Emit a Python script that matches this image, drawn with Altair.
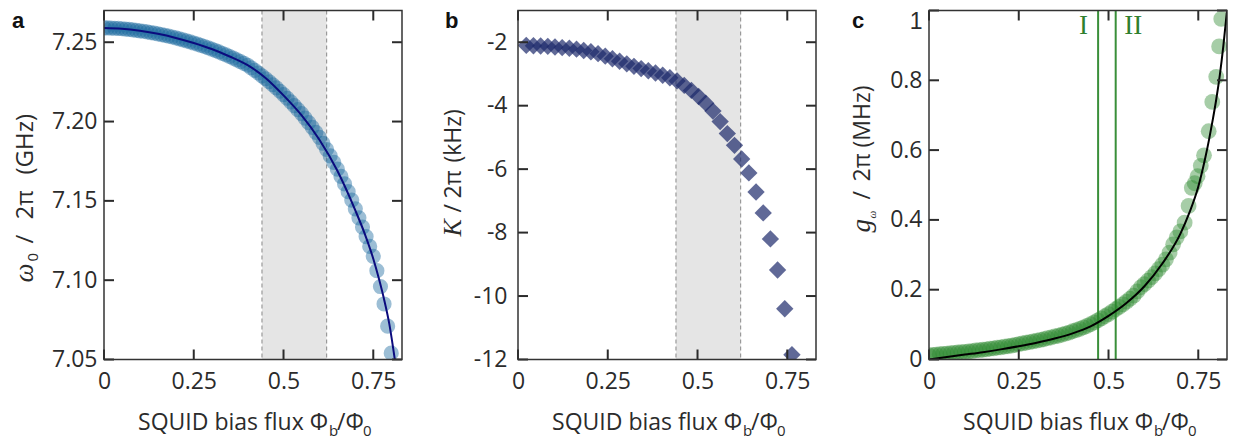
import altair as alt
import pandas as pd

# ---------------- layout constants ----------------
W = 298
H = 349
FONT = "Open Sans"
SERIF = "Liberation Serif"
BOLD = "Liberation Sans"
INK = "#2b2b2b"

# ---------------- data ----------------
x_ticks = [0, 0.25, 0.5, 0.75]
x_domain = [0, 0.83]
band_start = [0.44]
band_end = [0.62]

# panel a: resonance frequency
a_y_ticks = [7.05, 7.10, 7.15, 7.20, 7.25]
a_y_domain = [7.05, 7.27]
a_flux = [0.00, 0.01, 0.02, 0.03, 0.04, 0.05, 0.06, 0.07, 0.08, 0.09,
          0.10, 0.11, 0.12, 0.13, 0.14, 0.15, 0.16, 0.17, 0.18, 0.19,
          0.20, 0.21, 0.22, 0.23, 0.24, 0.25, 0.26, 0.27, 0.28, 0.29,
          0.30, 0.31, 0.32, 0.33, 0.34, 0.35, 0.36, 0.37, 0.38, 0.39,
          0.40, 0.41, 0.42, 0.43, 0.44, 0.45, 0.46, 0.47, 0.48, 0.49,
          0.50, 0.51, 0.52, 0.53, 0.54, 0.55, 0.56, 0.57, 0.58, 0.59,
          0.60, 0.61, 0.62, 0.63, 0.64, 0.65, 0.66, 0.67, 0.68, 0.69,
          0.70, 0.71, 0.72, 0.73, 0.74, 0.75, 0.76, 0.77, 0.78, 0.79, 0.80]
a_omega = [7.2590, 7.2590, 7.2589, 7.2588, 7.2587, 7.2585, 7.2583, 7.2581, 7.2578, 7.2575,
           7.2572, 7.2569, 7.2565, 7.2561, 7.2557, 7.2553, 7.2548, 7.2543, 7.2538, 7.2533,
           7.2527, 7.2521, 7.2515, 7.2508, 7.2502, 7.2495, 7.2488, 7.2480, 7.2473, 7.2465,
           7.2457, 7.2448, 7.2439, 7.2429, 7.2420, 7.2410, 7.2400, 7.2389, 7.2378, 7.2367,
           7.2355, 7.2339, 7.2323, 7.2306, 7.2288, 7.2270, 7.2251, 7.2232, 7.2212, 7.2191,
           7.2170, 7.2147, 7.2124, 7.2100, 7.2075, 7.2050, 7.2022, 7.1993, 7.1963, 7.1932,
           7.1900, 7.1863, 7.1824, 7.1784, 7.1743, 7.1700, 7.1654, 7.1607, 7.1558, 7.1505,
           7.1450, 7.1393, 7.1335, 7.1275, 7.1213, 7.1150, 7.1060, 7.0960, 7.0850, 7.0710, 7.0540]
a_fit_flux = [0.00, 0.05, 0.10, 0.15, 0.20, 0.25, 0.30, 0.35, 0.40, 0.45, 0.50,
              0.55, 0.60, 0.65, 0.70, 0.725, 0.75, 0.765, 0.78, 0.795, 0.81]
a_fit_omega = [7.2590, 7.2585, 7.2572, 7.2553, 7.2527, 7.2495, 7.2457, 7.2410, 7.2355, 7.2275, 7.2165,
               7.2040, 7.1885, 7.1690, 7.1440, 7.1300, 7.1135, 7.1015, 7.0880, 7.0720, 7.0500]

# panel b: Kerr coefficient
b_y_ticks = [-12, -10, -8, -6, -4, -2]
b_y_domain = [-12, -1]
b_flux = [0.023, 0.043, 0.063, 0.083, 0.103, 0.123, 0.143, 0.163, 0.183, 0.203,
          0.223, 0.243, 0.263, 0.283, 0.303, 0.323, 0.343, 0.363, 0.383, 0.403,
          0.423, 0.443, 0.463, 0.483, 0.503, 0.523, 0.543, 0.563, 0.583, 0.603,
          0.623, 0.643, 0.663, 0.683, 0.703, 0.723, 0.743, 0.763]
b_kerr = [-2.10, -2.11, -2.12, -2.13, -2.15, -2.17, -2.19, -2.22, -2.26, -2.30,
          -2.36, -2.44, -2.52, -2.60, -2.68, -2.76, -2.83, -2.90, -2.97, -3.04,
          -3.12, -3.22, -3.36, -3.52, -3.71, -3.92, -4.17, -4.50, -4.88, -5.25,
          -5.68, -6.12, -6.72, -7.38, -8.20, -9.18, -10.40, -11.85]

# panel c: coupling strength
c_y_ticks = [0, 0.2, 0.4, 0.6, 0.8, 1.0]
c_y_domain = [0, 1]
c_flux = [0.00, 0.01, 0.02, 0.03, 0.04, 0.05, 0.06, 0.07, 0.08, 0.09,
          0.10, 0.11, 0.12, 0.13, 0.14, 0.15, 0.16, 0.17, 0.18, 0.19,
          0.20, 0.21, 0.22, 0.23, 0.24, 0.25, 0.26, 0.27, 0.28, 0.29,
          0.30, 0.31, 0.32, 0.33, 0.34, 0.35, 0.36, 0.37, 0.38, 0.39,
          0.40, 0.41, 0.42, 0.43, 0.44, 0.45, 0.46, 0.47, 0.48, 0.49,
          0.50, 0.51, 0.52, 0.53, 0.54, 0.55, 0.56, 0.57, 0.58, 0.59,
          0.60, 0.61, 0.62, 0.63, 0.64, 0.65, 0.66, 0.67,
          0.680, 0.690, 0.700, 0.712, 0.723, 0.732, 0.740, 0.748, 0.757, 0.766,
          0.779, 0.789, 0.800, 0.808, 0.814]
c_g = [0.012, 0.013, 0.014, 0.015, 0.016, 0.017, 0.018, 0.019, 0.020, 0.021,
       0.022, 0.023, 0.024, 0.026, 0.027, 0.028, 0.029, 0.031, 0.032, 0.034,
       0.035, 0.037, 0.038, 0.040, 0.042, 0.044, 0.046, 0.048, 0.050, 0.052,
       0.054, 0.056, 0.058, 0.061, 0.063, 0.066, 0.068, 0.071, 0.074, 0.077,
       0.081, 0.084, 0.088, 0.092, 0.096, 0.101, 0.106, 0.112, 0.118, 0.124,
       0.130, 0.137, 0.144, 0.151, 0.158, 0.166, 0.174, 0.183, 0.195, 0.207,
       0.216, 0.226, 0.236, 0.247, 0.259, 0.272, 0.287, 0.306,
       0.330, 0.350, 0.367, 0.392, 0.440, 0.492, 0.505, 0.525, 0.555, 0.585,
       0.654, 0.738, 0.810, 0.897, 0.976]
c_fit_flux = [0.00, 0.05, 0.10, 0.15, 0.20, 0.25, 0.30, 0.35, 0.40, 0.45, 0.50,
              0.55, 0.60, 0.65, 0.70, 0.725, 0.75, 0.77, 0.78, 0.79, 0.80, 0.81, 0.82, 0.83]
c_fit_g = [0.000, 0.007, 0.014, 0.021, 0.029, 0.038, 0.048, 0.060, 0.075, 0.095, 0.125,
           0.162, 0.210, 0.275, 0.360, 0.420, 0.495, 0.580, 0.630, 0.685, 0.745, 0.815, 0.900, 1.000]
c_markers = [0.471, 0.52]
c_marker_text = ["I", "II"]
c_marker_text_x = [0.43, 0.569]

one = pd.DataFrame({"v": [0]})


# ---------------- helpers ----------------
def x_axis():
    return alt.Axis(values=x_ticks, labelExpr="'' + datum.value", ticks=False, tickSize=0,
                    domain=False, grid=False, title=None, labelFont=FONT, labelFontSize=23,
                    labelColor=INK, labelPadding=11, labelFlush=False, labelOverlap=False)


def y_axis(values, expr, pad, extra=None):
    kw = dict(values=values, labelExpr=expr, ticks=False, tickSize=0, domain=False, grid=False,
              title=None, labelFont=FONT, labelFontSize=23, labelColor=INK, labelPadding=pad,
              labelOverlap=False)
    if extra:
        kw.update(extra)
    return alt.Axis(**kw)


def xenc(field="x"):
    return alt.X(f"{field}:Q", scale=alt.Scale(domain=x_domain, nice=False, zero=False),
                 axis=x_axis())


def make_yenc(domain, axis_args):
    def yenc(field="y"):
        return alt.Y(f"{field}:Q", scale=alt.Scale(domain=domain, nice=False, zero=False),
                     axis=y_axis(*axis_args))
    return yenc


def txt(text, x, y, size=23, font=FONT, color=INK, angle=0, align="left",
        baseline="alphabetic", style="normal", weight="normal"):
    return alt.Chart(one).mark_text(
        text=text, fontSize=size, font=font, color=color, angle=angle, align=align,
        baseline=baseline, fontStyle=style, fontWeight=weight
    ).encode(x=alt.value(x), y=alt.value(y))


def tick_layers(yenc, yt):
    xt = pd.DataFrame({"x": x_ticks})
    ytd = pd.DataFrame({"y": yt})
    base_x = alt.Chart(xt).mark_rule(color=INK, strokeWidth=2)
    base_y = alt.Chart(ytd).mark_rule(color=INK, strokeWidth=2)
    return [
        base_x.encode(x=xenc(), y=alt.value(H), y2=alt.value(H - 10)),
        base_x.encode(x=xenc(), y=alt.value(0), y2=alt.value(10)),
        base_y.encode(y=yenc(), x=alt.value(0), x2=alt.value(10)),
        base_y.encode(y=yenc(), x=alt.value(W - 10), x2=alt.value(W)),
    ]


def frame():
    return alt.Chart(one).mark_rect(fillOpacity=0, stroke="#333333", strokeWidth=1.5).encode(
        x=alt.value(0), x2=alt.value(W), y=alt.value(0), y2=alt.value(H))


def anchor(left):
    return alt.Chart(one).mark_rule(opacity=0, strokeWidth=1).encode(
        x=alt.value(left), y=alt.value(-8), y2=alt.value(-7))


def band_layers():
    bdf = pd.DataFrame({"x0": band_start, "x1": band_end})
    edf = pd.DataFrame({"x": band_start + band_end})
    rect = alt.Chart(bdf).mark_rect(color="#e5e5e5").encode(
        x=xenc("x0"), x2=alt.X2("x1"), y=alt.value(0), y2=alt.value(H))
    edges = alt.Chart(edf).mark_rule(color="#9a9a9a", strokeWidth=1.2, strokeDash=[4, 3]).encode(
        x=xenc(), y=alt.value(0), y2=alt.value(H))
    return [rect, edges]


def x_title():
    return [
        txt("SQUID bias flux \u03a6", 224, 419, align="right"),
        txt("b", 225, 425, size=15),
        txt("/\u03a6", 233, 419),
        txt("0", 259, 425, size=15),
    ]


def letter(t, x):
    return txt(t, x, 17, size=22, font=BOLD, weight="bold", color="#111111")


# ---------------- panel a ----------------
ya = make_yenc(a_y_domain, (a_y_ticks, "format(datum.value, '.2f')", 7))
df_a = pd.DataFrame({"x": a_flux, "y": a_omega})
df_af = pd.DataFrame({"x": a_fit_flux, "y": a_fit_omega})
pts_a = alt.Chart(df_a).mark_circle(size=230, color="#14649a", opacity=0.42, clip=True).encode(
    x=xenc(), y=ya())
fit_a = alt.Chart(df_af).mark_line(color="#0b0b7e", strokeWidth=2, clip=True,
                                   interpolate="monotone").encode(x=xenc(), y=ya())
panel_a = alt.layer(
    *band_layers(), pts_a, fit_a, *tick_layers(ya, a_y_ticks), frame(),
    letter("a", -92),
    txt("\u03c9", -71, 272, size=27, font=SERIF, style="italic", angle=270),
    txt("0", -66, 251, size=15, angle=270),
    txt("/", -71, 233, size=24, angle=270),
    txt("2\u03c0", -71, 209, size=24, angle=270),
    txt("(GHz)", -71, 164, size=24, angle=270),
    *x_title(), anchor(-96),
).properties(width=W, height=H)

# ---------------- panel b ----------------
yb = make_yenc(b_y_domain, (b_y_ticks, "'' + datum.value", 11))
df_b = pd.DataFrame({"x": b_flux, "y": b_kerr})
pts_b = alt.Chart(df_b).mark_point(shape="diamond", size=300, filled=True, color="#1c2a6b",
                                   opacity=0.7, clip=True).encode(x=xenc(), y=yb())
panel_b = alt.layer(
    *band_layers(), pts_b, *tick_layers(yb, b_y_ticks), frame(),
    letter("b", -73),
    txt("K", -57, 226, size=26, font=SERIF, style="italic", angle=270),
    txt("/", -57, 202, angle=270),
    txt("2\u03c0", -57, 188, angle=270),
    txt("(kHz)", -57, 152, angle=270),
    *x_title(), anchor(-85),
).properties(width=W, height=H)

# ---------------- panel c ----------------
yc = make_yenc(c_y_domain, (c_y_ticks, "'' + datum.value", 7, {
    "labelOffset": {"condition": {"test": "datum.value == 1", "value": 11}, "value": 0},
    "labelFont": {"condition": {"test": "datum.value == 1", "value": "Liberation Sans"},
                  "value": FONT},
}))
df_c = pd.DataFrame({"x": c_flux, "y": c_g})
df_cf = pd.DataFrame({"x": c_fit_flux, "y": c_fit_g})
df_cm = pd.DataFrame({"x": c_markers})
df_ct = pd.DataFrame({"x": c_marker_text_x, "t": c_marker_text})
pts_c = alt.Chart(df_c).mark_circle(size=250, color="#2a872e", opacity=0.42, clip=True).encode(
    x=xenc(), y=yc())
fit_c = alt.Chart(df_cf).mark_line(color="#000000", strokeWidth=2, clip=True,
                                   interpolate="monotone").encode(x=xenc(), y=yc())
marks_c = alt.Chart(df_cm).mark_rule(color="#3a8f3a", strokeWidth=2).encode(
    x=xenc(), y=alt.value(0), y2=alt.value(H))
mtext_c = alt.Chart(df_ct).mark_text(font=SERIF, fontSize=27, color="#2f7f2f",
                                     baseline="middle", align="center").encode(
    x=xenc(), y=alt.value(15), text="t:N")
panel_c = alt.layer(
    marks_c, pts_c, fit_c, mtext_c, *tick_layers(yc, c_y_ticks), frame(),
    letter("c", -77),
    txt("g", -59, 222, size=27, font=SERIF, style="italic", angle=270),
    txt("\u03c9", -53, 208, size=11, font=SERIF, style="italic", angle=270),
    txt("/", -59, 189, angle=270),
    txt("2\u03c0", -59, 171, angle=270),
    txt("(MHz)", -59, 137, angle=270),
    *x_title(), anchor(-81.5),
).properties(width=W, height=H)

chart = alt.hconcat(panel_a, panel_b, panel_c, spacing=30).properties(
    padding={"left": 0, "top": -5.5, "right": 0, "bottom": 0}
).configure_view(stroke=None)

chart.save("out.html", embed_options={"renderer": "svg", "actions": False})
